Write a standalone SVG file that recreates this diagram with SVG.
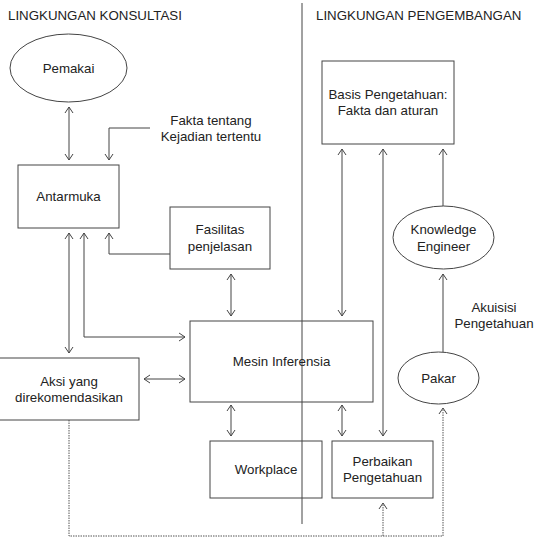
<svg xmlns="http://www.w3.org/2000/svg" width="539" height="544" viewBox="0 0 539 544">
  <style>
    text { font-family: "Liberation Sans", Arial, sans-serif; font-size: 13.3px; fill: #222; }
    .c { text-anchor: middle; }
    .box { fill: #fff; stroke: #444; stroke-width: 1; }
    .ln { fill: none; stroke: #444; stroke-width: 1; }
    .dot { fill: none; stroke: #555; stroke-width: 1; stroke-dasharray: 1.5 1; }
  </style>
  <defs>
    <marker id="arr" viewBox="0 0 6 10" refX="6" refY="5" markerWidth="6" markerHeight="10" markerUnits="userSpaceOnUse" orient="auto-start-reverse">
      <path d="M0,1 L6,5 L0,9" fill="none" stroke="#444" stroke-width="1"/>
    </marker>
  </defs>
  <rect width="539" height="544" fill="#fff"/>

  <!-- section headings and divider -->
  <g id="headings">
    <text x="8" y="20">LINGKUNGAN KONSULTASI</text>
    <text x="316" y="20">LINGKUNGAN PENGEMBANGAN</text>
    <line class="ln" x1="302" y1="3" x2="302" y2="524"/>
  </g>

  <!-- connectors -->
  <g id="connectors">
    <path class="ln" d="M69,107 V160" marker-start="url(#arr)" marker-end="url(#arr)"/>
    <path class="ln" d="M150,128 H109 V160" marker-end="url(#arr)"/>
    <path class="ln" d="M170,254 H109 V233" marker-end="url(#arr)"/>
    <path class="ln" d="M69,233 V353" marker-start="url(#arr)" marker-end="url(#arr)"/>
    <path class="ln" d="M84,233 V337 H185" marker-start="url(#arr)" marker-end="url(#arr)"/>
    <path class="ln" d="M231,274 V316" marker-start="url(#arr)" marker-end="url(#arr)"/>
    <path class="ln" d="M144,379 H185" marker-start="url(#arr)" marker-end="url(#arr)"/>
    <path class="ln" d="M231,405 V436" marker-start="url(#arr)" marker-end="url(#arr)"/>
    <path class="ln" d="M342,405 V436" marker-start="url(#arr)" marker-end="url(#arr)"/>
    <path class="ln" d="M342,149 V316" marker-start="url(#arr)" marker-end="url(#arr)"/>
    <path class="ln" d="M383,149 V436" marker-start="url(#arr)" marker-end="url(#arr)"/>
    <path class="ln" d="M443,206 V149" marker-end="url(#arr)"/>
    <path class="ln" d="M443,352 V274" marker-end="url(#arr)"/>
    <path class="dot" d="M69,420 V536 H443 V408" marker-end="url(#arr)"/>
    <path class="dot" d="M383,536 V503" marker-end="url(#arr)"/>
  </g>

  <g id="fakta-label">
    <text class="c" x="211" y="125">Fakta tentang</text>
    <text class="c" x="211" y="141">Kejadian tertentu</text>
  </g>
  <g id="akuisisi-label">
    <text class="c" x="494" y="312">Akuisisi</text>
    <text class="c" x="494" y="328">Pengetahuan</text>
  </g>

  <g id="pemakai">
    <ellipse class="box" cx="68.5" cy="68" rx="58.5" ry="34"/>
    <text class="c" x="68.5" y="73">Pemakai</text>
  </g>
  <g id="antarmuka">
    <rect class="box" x="18" y="165" width="101" height="63"/>
    <text class="c" x="68.5" y="201">Antarmuka</text>
  </g>
  <g id="fasilitas">
    <rect class="box" x="170" y="207" width="100" height="62"/>
    <text class="c" x="220" y="234">Fasilitas</text>
    <text class="c" x="220" y="251">penjelasan</text>
  </g>
  <g id="mesin">
    <rect class="box" x="190" y="321" width="183" height="81" fill-opacity="0"/>
    <text class="c" x="281.5" y="366">Mesin Inferensia</text>
  </g>
  <g id="aksi">
    <rect class="box" x="-1" y="358" width="140" height="62"/>
    <text class="c" x="69" y="386">Aksi yang</text>
    <text class="c" x="69" y="402">direkomendasikan</text>
  </g>
  <g id="workplace">
    <rect class="box" x="210" y="441" width="112" height="57" fill-opacity="0"/>
    <text class="c" x="266" y="474">Workplace</text>
  </g>
  <g id="perbaikan">
    <rect class="box" x="332" y="441" width="101" height="57"/>
    <text class="c" x="382.5" y="466">Perbaikan</text>
    <text class="c" x="382.5" y="482">Pengetahuan</text>
  </g>
  <g id="basis">
    <rect class="box" x="322" y="61" width="132" height="83"/>
    <text class="c" x="388" y="99">Basis Pengetahuan:</text>
    <text class="c" x="388" y="115">Fakta dan aturan</text>
  </g>
  <g id="knowledge-engineer">
    <ellipse class="box" cx="443.5" cy="237.5" rx="50.5" ry="31.5"/>
    <text class="c" x="443.5" y="234">Knowledge</text>
    <text class="c" x="443.5" y="251">Engineer</text>
  </g>
  <g id="pakar">
    <ellipse class="box" cx="438.5" cy="378" rx="40.5" ry="26"/>
    <text class="c" x="438.5" y="383">Pakar</text>
  </g>
</svg>
